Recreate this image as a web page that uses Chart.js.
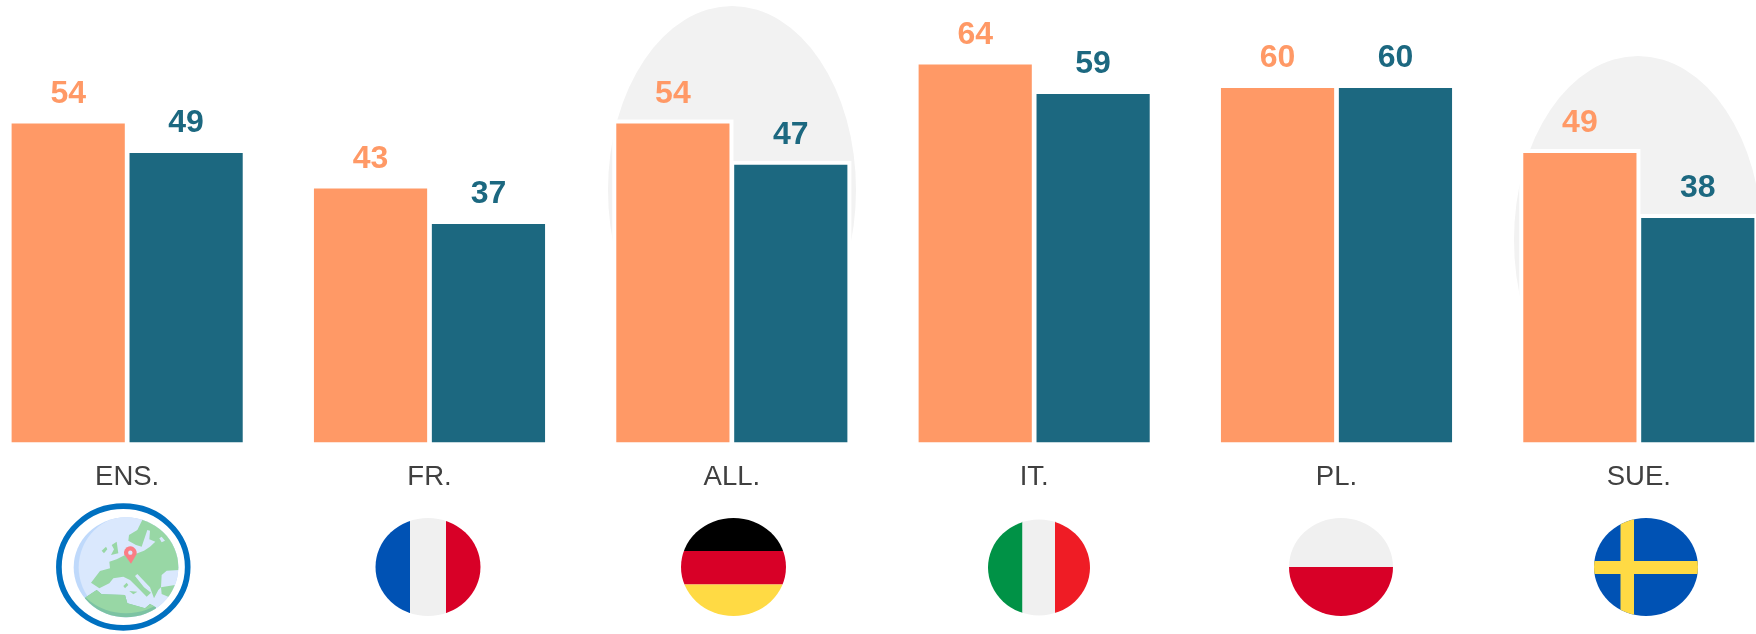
<!DOCTYPE html>
<html><head><meta charset="utf-8">
<script src="https://cdn.jsdelivr.net/npm/chart.js@4"></script>
<style>
html,body{margin:0;padding:0;background:#fff;width:1756px;height:634px;overflow:hidden;position:relative}
canvas{position:absolute;left:-24px;top:0}
</style></head><body>
<canvas id="c" width="1814" height="634"></canvas>
<script>
const categories = ["ENS.","FR.","ALL.","IT.","PL.","SUE."];
const orangeValues = [54,43,54,64,60,49];
const tealValues = [49,37,47,59,60,38];
const ORANGE="#FF9966", TEAL="#1C6880", GREY="#F2F2F2";
const FONT="'Liberation Sans', Arial, sans-serif";
const SHIFT=24; // canvas sits 24px left of the viewport

function ellipsePath(ctx,cx,cy,rx,ry){ctx.beginPath();ctx.ellipse(cx,cy,rx,ry,0,0,Math.PI*2);}
function clipped(ctx,cx,cy,rx,ry,fn){ctx.save();ellipsePath(ctx,cx,cy,rx,ry);ctx.clip();fn();ctx.restore();}
function rect(ctx,c,x0,y0,x1,y1){ctx.fillStyle=c;ctx.fillRect(x0,y0,x1-x0,y1-y0);}
function poly(ctx,c,pts){ctx.fillStyle=c;ctx.beginPath();pts.forEach((p,i)=>i?ctx.lineTo(p[0],p[1]):ctx.moveTo(p[0],p[1]));ctx.closePath();ctx.fill();}

function drawGlobe(ctx){
  ctx.strokeStyle="#0070C0";ctx.lineWidth=5.7;
  ellipsePath(ctx,123.3,567,64.4,60.8);ctx.stroke();
  const land="#98D7A5",sea="#DAE8FD";
  const africa=[[105,293],[140,270],[155,283],[225,285],[232,310],[285,325],[300,312],[318,322],[320,380],[80,380]];
  ctx.save();
  // icon outlines below are sketched in a 3x local grid of this icon
  ctx.translate(50,500);ctx.scale(1/3,1/3);
  clipped(ctx,228,202,157,150,()=>{
    rect(ctx,"#BFD9FB",60,40,400,370);
    ctx.fillStyle=sea;ellipsePath(ctx,243,202,157,156);ctx.fill();
    poly(ctx,"#7CC3A3",africa);
    clipped(ctx,228,190,165,150,()=>poly(ctx,land,africa));
    poly(ctx,land,[[278,58],[262,90],[237,105],[235,122],[258,135],[275,140],[292,90],[300,92],[298,118],[316,125],[300,140],[282,152],[262,160],[225,165],[200,178],[178,185],[180,205],[150,213],[123,248],[148,265],[178,250],[190,235],[220,230],[240,240],[262,262],[290,290],[303,278],[282,262],[255,228],[262,222],[300,262],[312,295],[325,270],[333,262],[335,225],[350,212],[390,210],[400,60]]);
    poly(ctx,sea,[[328,115],[335,110],[345,122],[335,127]]);
    poly(ctx,land,[[185,135],[200,125],[205,160],[183,165],[192,148]]);
    poly(ctx,land,[[155,152],[168,140],[172,148],[162,160]]);
    poly(ctx,land,[[220,258],[230,248],[235,255],[225,265]]);
    poly(ctx,land,[[238,273],[262,275],[250,283]]);
    poly(ctx,land,[[333,262],[375,255],[358,292],[335,282]]);
  });
  ctx.fillStyle="#FA7D85";
  ctx.beginPath();ctx.arc(241,158,19,Math.PI*0.92,Math.PI*0.08);ctx.lineTo(243,191);ctx.closePath();ctx.fill();
  ctx.fillStyle=sea;ctx.beginPath();ctx.arc(241,158,6.5,0,Math.PI*2);ctx.fill();
  ctx.restore();
}

function drawFlags(ctx){
  clipped(ctx,428,567,52.5,49,()=>{rect(ctx,"#0052B4",370,510,410,625);rect(ctx,"#F0F0F0",410,510,446,625);rect(ctx,"#D80027",446,510,490,625);});
  clipped(ctx,733.5,567,52.5,49,()=>{rect(ctx,"#000000",675,510,795,551);rect(ctx,"#D80027",675,551,795,584.5);rect(ctx,"#FFDA44",675,584.5,795,625);});
  clipped(ctx,1039,567.5,51,48,()=>{rect(ctx,"#009246",980,510,1022.5,625);rect(ctx,"#F0F0F0",1022.5,510,1055,625);rect(ctx,"#EF1C25",1055,510,1100,625);});
  clipped(ctx,1341,567,52,49,()=>{rect(ctx,"#F0F0F0",1280,510,1400,567);rect(ctx,"#D80027",1280,567,1400,625);});
  clipped(ctx,1646,567,52,49,()=>{rect(ctx,"#0052B4",1585,510,1705,625);rect(ctx,"#FFDA44",1620.5,510,1634,625);rect(ctx,"#FFDA44",1585,561,1705,574);});
}

const decor={
  id:"decor",
  beforeDatasetsDraw(chart){
    const ctx=chart.ctx;
    ctx.save();ctx.translate(SHIFT,0);
    ctx.fillStyle=GREY;
    ellipsePath(ctx,732,190,124,184);ctx.fill();
    ellipsePath(ctx,1638,240,124,184);ctx.fill();
    ctx.restore();
    ctx.save();ctx.fillStyle="#fff";
    chart.data.datasets.forEach((d,i)=>{
      chart.getDatasetMeta(i).data.forEach(el=>{
        ctx.fillRect(el.x-el.width/2-4,el.y-4,el.width+8,el.base-el.y+4);
      });
    });
    ctx.restore();
  },
  afterDatasetsDraw(chart){
    const ctx=chart.ctx;
    ctx.save();
    ctx.font="bold 32px "+FONT;ctx.textAlign="center";ctx.textBaseline="middle";
    chart.data.datasets.forEach((d,i)=>{
      ctx.fillStyle=d.backgroundColor;
      chart.getDatasetMeta(i).data.forEach((el,j)=>{
        ctx.fillText(String(d.data[j]),el.x,el.y-29.5);
      });
    });
    ctx.restore();
    ctx.save();ctx.translate(SHIFT,0);
    drawGlobe(ctx);drawFlags(ctx);
    ctx.restore();
  }
};

new Chart(document.getElementById("c"),{
  type:"bar",
  data:{labels:categories,datasets:[
    {data:orangeValues,backgroundColor:ORANGE},
    {data:tealValues,backgroundColor:TEAL}
  ]},
  plugins:[decor],
  options:{
    responsive:false,animation:false,
    layout:{padding:{top:29,left:0,right:0,bottom:0}},
    plugins:{legend:{display:false},tooltip:{enabled:false},title:{display:false}},
    datasets:{bar:{categoryPercentage:0.78,barPercentage:0.96}},
    scales:{
      x:{grid:{display:false},border:{display:false},
        ticks:{color:"#404040",font:{family:FONT,size:27.5},padding:10,maxRotation:0,autoSkip:false},
        afterFit(s){s.height=191.5;}},
      y:{display:false,min:0,max:70}
    }
  }
});
</script>
</body></html>
